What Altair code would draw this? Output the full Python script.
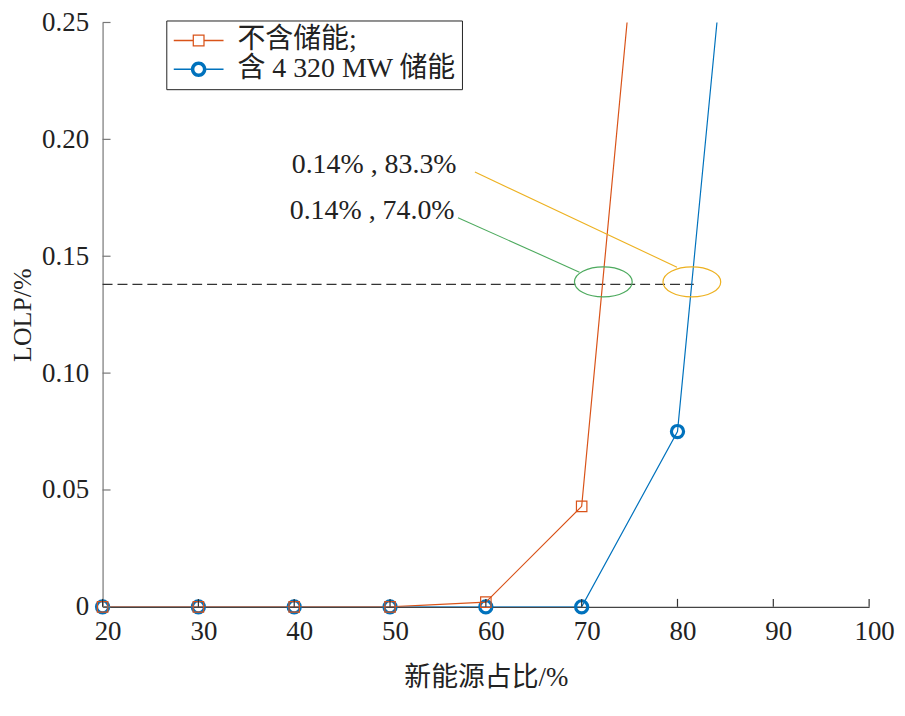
import altair as alt
import pandas as pd

# ---- data ----
share_no = [20, 30, 40, 50, 60, 70, 80]
lolp_no = [0.0, 0.0, 0.0, 0.0, 0.002, 0.043, 0.48]
share_st = [20, 30, 40, 50, 60, 70, 80, 90]
lolp_st = [0.0, 0.0, 0.0, 0.0, 0.0, 0.0, 0.075, 0.50]

series_names = ["不含储能;", "含 4 320 MW 储能"]
series_colors = ["#D95319", "#0072BD"]

x_ticks = [20, 30, 40, 50, 60, 70, 80, 90, 100]
y_ticks = [0, 0.05, 0.10, 0.15, 0.20, 0.25]

thr_y = 0.138
thr_x = [20, 81.7]

ann_text = ["0.14%  , 83.3%", "0.14%  , 74.0%"]
ann_tx = [39.74, 39.53]
ann_ty = [0.189, 0.1695]
lead_x1 = [58.86, 57.09]
lead_y1 = [0.186, 0.1665]
lead_x2 = [79.95, 69.77]
lead_y2 = [0.1453, 0.1432]
ell_x = [81.5, 72.26]
ell_y = [0.139, 0.139]
ann_colors = ["#EDB120", "#4DAA5E"]

FONT = "'Liberation Serif', 'Times New Roman', 'Noto Sans CJK SC', serif"

df_no = pd.DataFrame({"x": share_no, "y": lolp_no})
df_st = pd.DataFrame({"x": share_st, "y": lolp_st})
df_thr = pd.DataFrame({"x": [thr_x[0]], "x2": [thr_x[1]], "y": [thr_y]})
df_xt = pd.DataFrame({"x": x_ticks})
df_yt = pd.DataFrame({"y": y_ticks})
df_ann = pd.DataFrame({"t": ann_text, "x": ann_tx, "y": ann_ty})
df_lead = pd.DataFrame({"x": lead_x1, "y": lead_y1, "x2": lead_x2, "y2": lead_y2, "c": ann_colors})
df_ell = pd.DataFrame({"x": ell_x, "y": ell_y, "c": ann_colors})
df_leg = pd.DataFrame({"s": series_names, "x": [20, 20], "y": [0, 0]})

H = 587
xs = alt.Scale(domain=[20, 100], nice=False, zero=False)
ys = alt.Scale(domain=[0, 0.25], nice=False)

X = alt.X("x:Q", scale=xs, axis=alt.Axis(values=x_ticks, title="新能源占比/%", tickSize=0,
                                         labelPadding=12, labelOffset=5, titlePadding=20,
                                         labelFont=FONT, titleFont=FONT, labelFontSize=27,
                                         domainColor="#444", labelFlush=False))
Y = alt.Y("y:Q", scale=ys, axis=alt.Axis(values=y_ticks, title="LOLP/%", tickSize=0,
                                         labelPadding=14, titlePadding=6, titleFontSize=26,
                                         labelFont=FONT, titleFont=FONT, labelFontSize=27,
                                         domainColor="#777", labelFlush=False,
                                         labelExpr="datum.value == 0 ? '0' : format(datum.value, '.2f')"))

thr = alt.Chart(df_thr).mark_rule(color="#333", strokeWidth=1.2, strokeDash=[10, 5]).encode(
    x="x:Q", x2="x2:Q", y="y:Q")

line_st = alt.Chart(df_st).mark_line(color=series_colors[1], strokeWidth=1.2, clip=True).encode(x="x:Q", y="y:Q")
pts_st = alt.Chart(df_st).transform_filter("datum.y <= 0.25").mark_point(
    shape="circle", size=149, strokeWidth=3.2, filled=False,
    color=series_colors[1], opacity=1).encode(x="x:Q", y="y:Q")
line_no = alt.Chart(df_no).mark_line(color=series_colors[0], strokeWidth=1.2, clip=True).encode(x="x:Q", y="y:Q")
pts_no = alt.Chart(df_no).transform_filter("datum.y <= 0.25").mark_point(
    shape="square", size=110, strokeWidth=1.2, filled=False,
    color=series_colors[0], opacity=1).encode(x="x:Q", y="y:Q")

xt = alt.Chart(df_xt).mark_rule(color="#333", strokeWidth=1.2).encode(
    x="x:Q", y=alt.value(H), y2=alt.value(H - 8))
yt = alt.Chart(df_yt).mark_rule(color="#777", strokeWidth=1.2).encode(
    y="y:Q", x=alt.value(0), x2=alt.value(8))

lead = alt.Chart(df_lead).mark_rule(strokeWidth=1.1).encode(
    x="x:Q", y="y:Q", x2="x2:Q", y2="y2:Q", stroke=alt.Stroke("c:N", scale=None, legend=None))
ELL = "M -1 0 A 1 0.52 0 1 1 1 0 A 1 0.52 0 1 1 -1 0 Z"
ell = alt.Chart(df_ell).mark_point(shape=ELL, size=3364, filled=False, strokeWidth=1.2, opacity=1).encode(
    x="x:Q", y="y:Q", stroke=alt.Stroke("c:N", scale=None, legend=None))
ann = alt.Chart(df_ann).mark_text(align="left", baseline="middle", font=FONT, fontSize=28, color="#222").encode(
    x="x:Q", y="y:Q", text="t:N")

# legend symbols (size 625 -> 12.5 px per unit): line + marker as filled paths, 50 px wide
SQ = ("M -2 -0.06 H -0.48 V 0.06 H -2 Z M 0.48 -0.06 H 2 V 0.06 H 0.48 Z "
      "M -0.48 -0.48 H 0.48 V 0.48 H -0.48 Z M -0.38 -0.38 V 0.38 H 0.38 V -0.38 Z")
CI = ("M -2 -0.06 H -0.62 V 0.06 H -2 Z M 0.62 -0.06 H 2 V 0.06 H 0.62 Z "
      "M -0.624 0 A 0.624 0.624 0 1 0 0.624 0 A 0.624 0.624 0 1 0 -0.624 0 Z "
      "M -0.344 0 A 0.344 0.344 0 1 1 0.344 0 A 0.344 0.344 0 1 1 -0.344 0 Z")
leg = alt.Chart(df_leg).transform_filter("datum.y > 1").mark_point(filled=True, opacity=1, strokeWidth=0).encode(
    x="x:Q", y="y:Q",
    color=alt.Color("s:N", scale=alt.Scale(domain=series_names, range=series_colors), title=None,
                    legend=alt.Legend(orient="none", legendX=64, legendY=-2)),
    shape=alt.Shape("s:N", scale=alt.Scale(domain=series_names, range=[SQ, CI]), title=None),
)

axes_layer = alt.Chart(df_st).mark_point(opacity=0).encode(x=X, y=Y)

chart = alt.layer(axes_layer, thr, line_st, pts_st, line_no, pts_no, xt, yt, lead, ell, ann, leg).properties(
    width=770, height=H,
    autosize=alt.AutoSizeParams(type="none"),
    padding={"left": 95, "top": 13, "right": 28, "bottom": 90},
).configure_view(stroke=None).configure_axis(
    grid=False, labelFont=FONT, labelFontSize=27, labelColor="#222",
    titleFont=FONT, titleFontSize=27, titleFontWeight="normal", titleColor="#222",
    domainWidth=1.2,
).configure_legend(
    labelFont=FONT, labelFontSize=28, labelColor="#222", labelLimit=500,
    strokeColor="#222", fillColor="white", padding=6, symbolSize=625,
    symbolOffset=12.5, symbolStrokeWidth=0, labelOffset=25, rowPadding=1, cornerRadius=0,
)

chart.save("out.html", embed_options={"renderer": "svg", "actions": False})
